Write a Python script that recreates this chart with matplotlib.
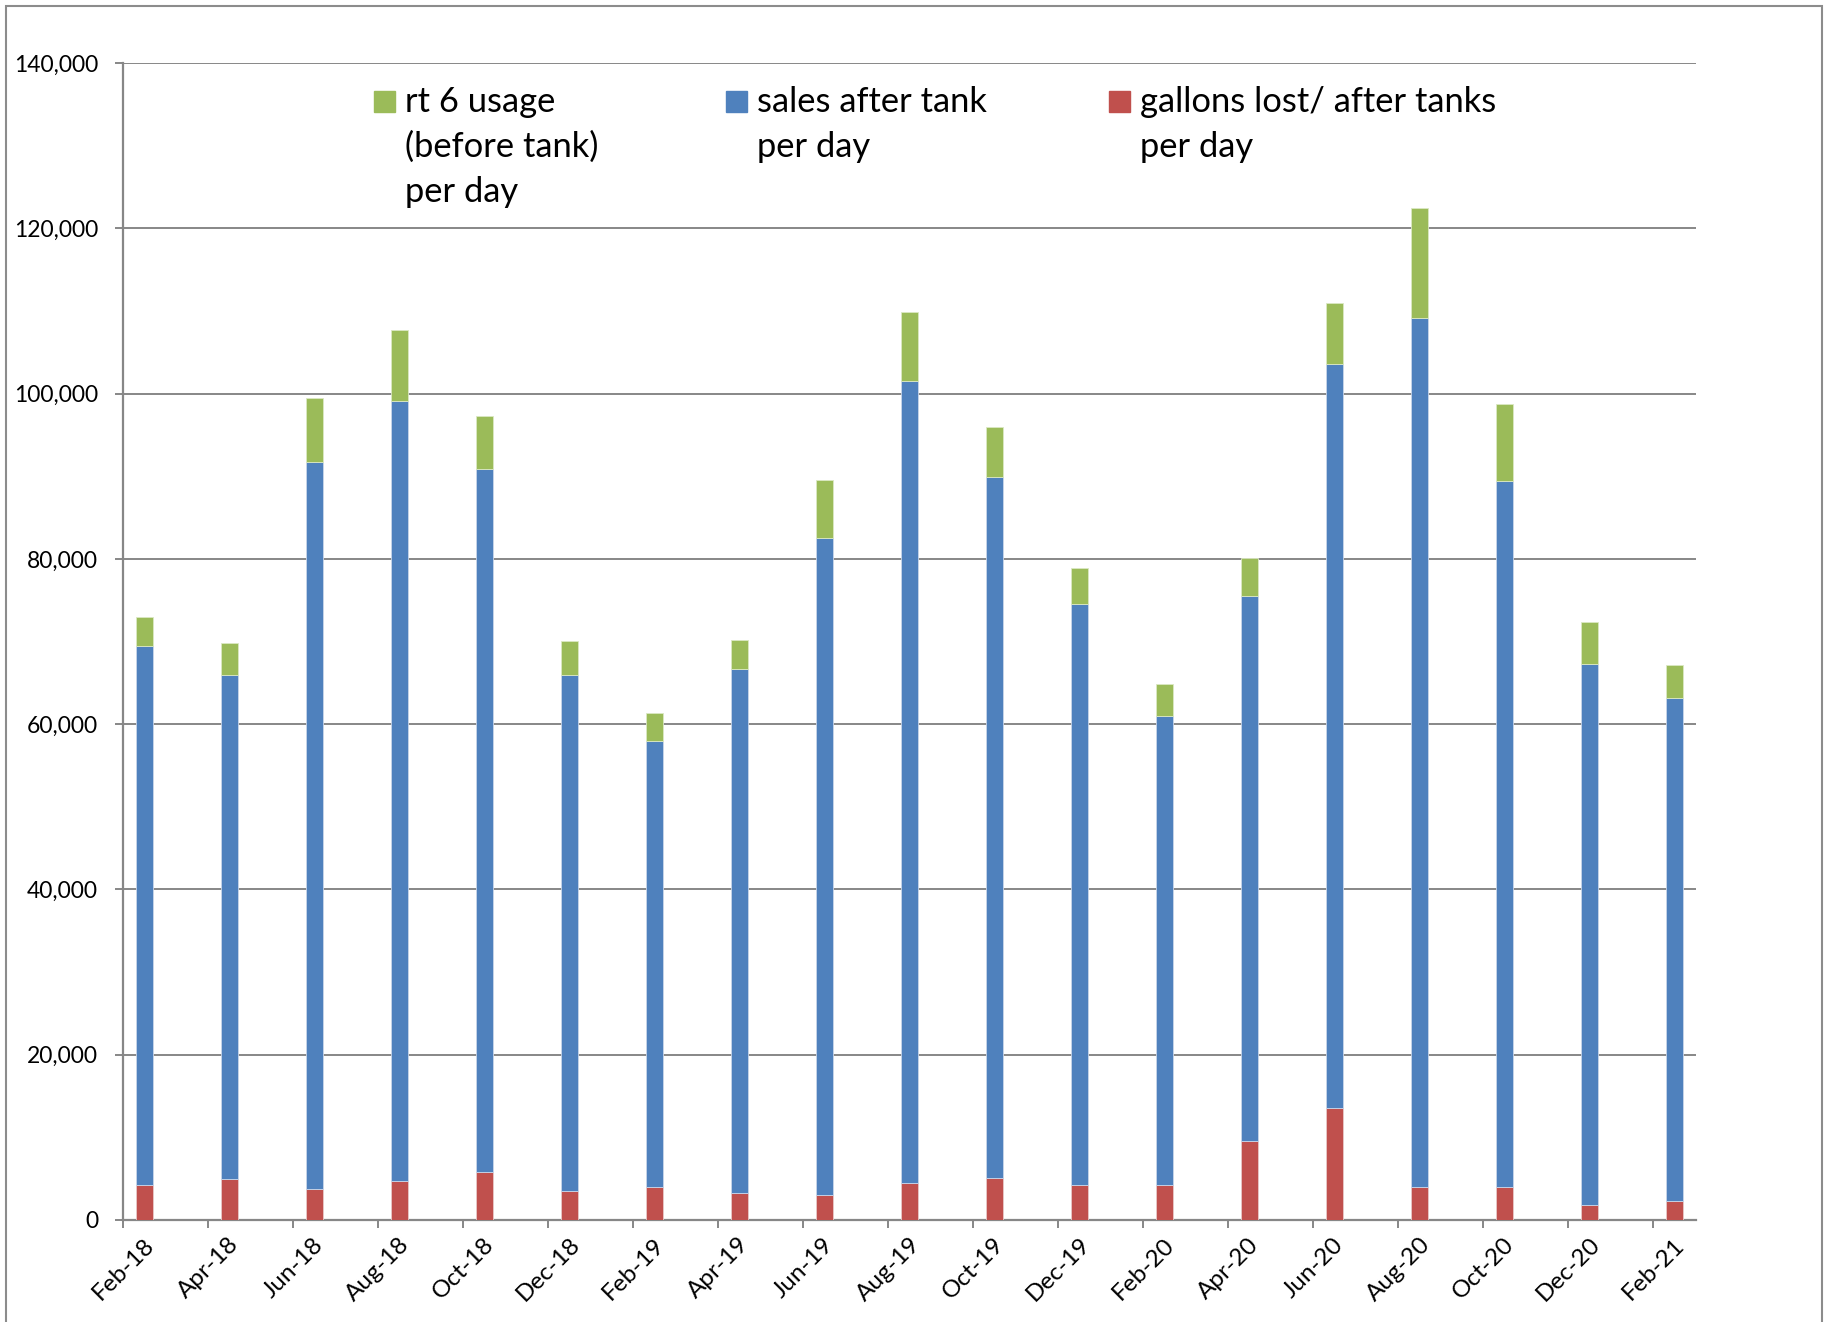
import numpy as np
import matplotlib.pyplot as plt
from matplotlib.patches import Rectangle
from matplotlib.ticker import FuncFormatter

# bi-monthly readings, gallons per day
months = ['Feb-18', 'Apr-18', 'Jun-18', 'Aug-18', 'Oct-18', 'Dec-18',
          'Feb-19', 'Apr-19', 'Jun-19', 'Aug-19', 'Oct-19', 'Dec-19',
          'Feb-20', 'Apr-20', 'Jun-20', 'Aug-20', 'Oct-20', 'Dec-20', 'Feb-21']
gallons_lost = [4200, 5000, 3800, 4700, 5800, 3500, 4000, 3300, 3000, 4500,
                5100, 4200, 4200, 9600, 13600, 4000, 4000, 1800, 2300]
sales_after_tank = [65300, 61000, 87900, 94400, 85100, 62500, 54000, 63400, 79500, 97000,
                    84800, 70300, 56800, 65900, 90000, 105100, 85400, 65500, 60900]
rt6_usage = [3500, 3800, 7800, 8600, 6400, 4100, 3300, 3500, 7000, 8400,
             6100, 4400, 3900, 4600, 7400, 13300, 9300, 5100, 3900]

c_green = '#9BBB59'
c_blue = '#4F81BD'
c_red = '#C0504D'
grey = '#878787'

plt.rcParams['font.family'] = ['Lato', 'DejaVu Sans']

fig = plt.figure(figsize=(18.34, 13.22), dpi=100)
W, H = 1834, 1322
ax = fig.add_axes([123 / W, 1 - 1220 / H, (1696 - 123) / W, (1220 - 63) / H])

x = np.arange(len(months))
pos = x + 0.25
w = 0.2
lost = np.array(gallons_lost)
sales = np.array(sales_after_tank)
rt6 = np.array(rt6_usage)

ax.bar(pos, lost, w, color=c_red, edgecolor='#e8c9c8', linewidth=0.6, zorder=3)
ax.bar(pos, sales, w, bottom=lost, color=c_blue, edgecolor='#c9d6ea', linewidth=0.6, zorder=3)
ax.bar(pos, rt6, w, bottom=lost + sales, color=c_green, edgecolor='#dbe8c4', linewidth=0.6, zorder=3)

ax.set_xlim(0, 18.5)
ax.set_ylim(0, 140000)
ax.set_yticks(np.arange(0, 140001, 20000))
ax.yaxis.set_major_formatter(FuncFormatter(lambda v, p: f'{int(v):,}'))
ax.set_xticks(x)
ax.set_xticklabels(months, rotation=45, ha='center')

ax.grid(axis='y', color=grey, linewidth=1.4, zorder=0)
for s in ['top', 'right']:
    ax.spines[s].set_visible(False)
for s in ['left', 'bottom']:
    ax.spines[s].set_color(grey)
    ax.spines[s].set_linewidth(1.6)
ax.tick_params(axis='y', length=6, width=1.4, color=grey, labelsize=16.5, pad=12)
ax.tick_params(axis='x', length=6, width=1.4, color=grey, labelsize=17.5, pad=4)

# legend across the top of the plot
entries = [(c_green, 374, 'rt 6 usage\n(before tank)\nper day'),
           (c_blue, 726, 'sales after tank\nper day'),
           (c_red, 1109, 'gallons lost/ after tanks\nper day')]
for col, px, label in entries:
    fig.add_artist(Rectangle((px / W, 1 - 112 / H), 21 / W, 21 / H,
                             transform=fig.transFigure, color=col))
    fig.text((px + 31) / W, 1 - 86 / H, label, fontsize=24.8, va='top', ha='left',
             linespacing=1.5)

# chart area border
fig.add_artist(Rectangle((6 / W, -0.05), (1822 - 6) / W, 1.05 - 6 / H,
                         transform=fig.transFigure, fill=False,
                         edgecolor='#8c8c8c', linewidth=1.5, clip_on=False))

fig.savefig('out.png', dpi=100)
